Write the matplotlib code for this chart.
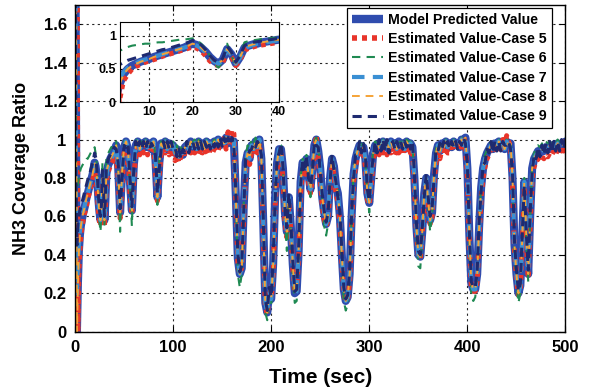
import numpy as np
import matplotlib
matplotlib.use('Agg')
import matplotlib.pyplot as plt

plt.rcParams['font.family'] = ['Liberation Sans', 'DejaVu Sans']
plt.rcParams['font.weight'] = 'bold'

# ---------------- data ----------------
time_start = list(range(0, 41))          # 1 s samples, 0..40 s
time_rest = list(range(42, 501, 2))      # 2 s samples, 42..500 s

model_start = [3.0, 1.2, 0.0, 0.25, 0.42, 0.5, 0.55, 0.58, 0.61, 0.63,
               0.65, 0.68, 0.7, 0.72, 0.74, 0.76, 0.78, 0.8, 0.82, 0.85,
               0.88, 0.86, 0.82, 0.76, 0.68, 0.62, 0.58, 0.64, 0.8, 0.72,
               0.58, 0.68, 0.82, 0.85, 0.87, 0.88, 0.9, 0.91, 0.92, 0.93, 0.94]
model_rest = [0.97, 0.86, 0.62, 0.83, 0.96, 0.99, 0.95, 0.78, 0.63, 0.87,
              0.97, 0.99, 0.95, 0.98, 0.96, 0.99, 0.96, 0.98, 0.95, 0.99,
              0.9, 0.70, 0.88, 0.98, 0.96, 0.99, 0.95, 0.98, 0.96, 0.97,
              0.93, 0.95, 0.91, 0.94, 0.92, 0.96, 0.97, 0.95, 0.99, 0.96,
              0.98, 0.95, 0.99, 0.96, 0.98, 0.95, 0.99, 0.97, 0.98, 0.96,
              0.99, 0.97, 1.0, 0.97, 0.99, 0.98, 1.01, 0.98, 1.0, 0.99,
              0.99, 0.7, 0.38, 0.3, 0.33, 0.65, 0.88, 0.93, 0.9, 0.97,
              0.95, 0.99, 0.96, 1.0, 0.9, 0.55, 0.15, 0.1, 0.22, 0.17,
              0.35, 0.7, 0.88, 0.95, 0.95, 0.85, 0.62, 0.52, 0.7, 0.55,
              0.35, 0.2, 0.21, 0.42, 0.78, 0.88, 0.85, 0.9, 0.82, 0.74,
              0.85, 0.97, 1.0, 0.94, 0.85, 0.7, 0.62, 0.56, 0.6, 0.8,
              0.9, 0.86, 0.76, 0.72, 0.6, 0.4, 0.22, 0.16, 0.18, 0.3,
              0.6, 0.82, 0.9, 0.94, 0.97, 0.95, 0.96, 0.9, 0.72, 0.67,
              0.8, 0.93, 0.97, 0.95, 0.98, 0.96, 0.99, 0.96, 0.98, 0.95,
              0.99, 0.96, 0.98, 0.95, 0.99, 0.97, 0.98, 0.95, 0.99, 0.97,
              0.98, 0.96, 0.8, 0.55, 0.4, 0.39, 0.52, 0.72, 0.8, 0.68,
              0.58, 0.62, 0.82, 0.93, 0.97, 0.94, 0.98, 0.96, 0.99, 0.96,
              0.98, 0.96, 0.99, 0.97, 0.98, 0.96, 1.0, 0.97, 1.01, 0.85,
              0.5, 0.25, 0.22, 0.22, 0.3, 0.55, 0.75, 0.85, 0.9, 0.93,
              0.95, 0.97, 0.95, 0.98, 0.96, 0.99, 0.96, 0.98, 0.95, 0.99,
              0.97, 0.98, 0.8, 0.45, 0.3, 0.2, 0.24, 0.5, 0.78, 0.5,
              0.3, 0.6, 0.85, 0.9, 0.92, 0.94, 0.93, 0.95, 0.94, 0.96,
              0.95, 0.97, 0.95, 0.97, 0.96, 0.98, 0.96, 0.98, 0.97, 0.99]

case5_start = [3.0, 3.0, 3.0, 0.0, 0.32, 0.42, 0.5, 0.54, 0.57, 0.6,
               0.62, 0.64, 0.66, 0.69, 0.71, 0.73, 0.75, 0.77, 0.79, 0.81,
               0.83, 0.81, 0.77, 0.7, 0.62, 0.57, 0.55, 0.6, 0.76, 0.68,
               0.55, 0.64, 0.78, 0.81, 0.83, 0.85, 0.86, 0.87, 0.88, 0.89, 0.9]
case5_rest = [0.92, 0.80, 0.59, 0.76, 0.93, 0.94, 0.93, 0.72, 0.61, 0.8,
              0.93, 0.96, 0.92, 0.95, 0.93, 0.97, 0.92, 0.96, 0.93, 0.95,
              0.84, 0.68, 0.82, 0.93, 0.95, 0.93, 0.96, 0.92, 0.95, 0.93,
              0.89, 0.92, 0.88, 0.91, 0.9, 0.93, 0.92, 0.94, 0.93, 0.95,
              0.93, 0.96, 0.92, 0.95, 0.93, 0.96, 0.94, 0.92, 0.95, 0.93,
              0.95, 0.98, 0.94, 0.99, 0.96, 1.02, 0.95, 1.04, 0.97, 1.05,
              1.03, 0.68, 0.36, 0.3, 0.34, 0.6, 0.84, 0.9, 0.87, 0.93,
              0.92, 0.96, 0.93, 0.98, 0.86, 0.5, 0.13, 0.09, 0.2, 0.17,
              0.3, 0.65, 0.84, 0.92, 0.93, 0.8, 0.58, 0.49, 0.66, 0.53,
              0.33, 0.2, 0.22, 0.38, 0.72, 0.84, 0.82, 0.87, 0.78, 0.72,
              0.8, 0.95, 1.02, 0.9, 0.8, 0.66, 0.58, 0.55, 0.58, 0.75,
              0.86, 0.82, 0.72, 0.68, 0.56, 0.36, 0.2, 0.16, 0.17, 0.26,
              0.55, 0.78, 0.86, 0.91, 0.93, 0.92, 0.93, 0.86, 0.69, 0.66,
              0.76, 0.9, 0.93, 0.96, 0.92, 0.95, 0.93, 0.97, 0.92, 0.95,
              0.93, 0.96, 0.92, 0.95, 0.93, 0.96, 0.92, 0.95, 0.93, 0.96,
              0.93, 0.95, 0.76, 0.52, 0.4, 0.38, 0.5, 0.68, 0.76, 0.64,
              0.56, 0.6, 0.78, 0.88, 0.93, 0.9, 0.95, 0.92, 0.96, 0.93,
              0.93, 0.96, 0.94, 0.97, 0.95, 0.99, 0.96, 1.02, 0.98, 0.8,
              0.45, 0.23, 0.21, 0.21, 0.26, 0.5, 0.7, 0.8, 0.86, 0.9,
              0.92, 0.95, 0.93, 0.96, 0.94, 0.97, 0.95, 1.0, 0.96, 1.02,
              0.99, 0.96, 0.76, 0.42, 0.28, 0.19, 0.22, 0.46, 0.74, 0.46,
              0.28, 0.55, 0.8, 0.86, 0.88, 0.9, 0.89, 0.91, 0.9, 0.92,
              0.91, 0.93, 0.92, 0.94, 0.92, 0.95, 0.93, 0.96, 0.94, 1.0]

case6_start = [3.0, 0.6, 0.72, 0.77, 0.8, 0.83, 0.85, 0.86, 0.87, 0.88,
               0.88, 0.89, 0.9, 0.9, 0.91, 0.92, 0.93, 0.94, 0.94, 0.95,
               0.96, 0.93, 0.88, 0.8, 0.7, 0.57, 0.52, 0.62, 0.88, 0.7,
               0.55, 0.72, 0.9, 0.92, 0.93, 0.94, 0.95, 0.96, 0.96, 0.97, 0.97]
case6_rest = [0.99, 0.85, 0.52, 0.85, 0.99, 1.0, 0.97, 0.76, 0.55, 0.89,
              0.99, 1.01, 0.97, 1.0, 0.98, 1.0, 0.98, 1.0, 0.97, 1.0,
              0.91, 0.66, 0.9, 1.0, 0.98, 1.0, 0.97, 0.99, 0.98, 0.99,
              0.95, 0.97, 0.93, 0.96, 0.94, 0.98, 0.99, 0.97, 1.0, 0.98,
              1.0, 0.97, 1.0, 0.98, 0.99, 0.97, 1.0, 0.99, 0.99, 0.98,
              1.0, 0.99, 1.01, 0.99, 1.0, 0.99, 1.01, 0.99, 1.0, 1.0,
              1.0, 0.68, 0.3, 0.23, 0.3, 0.66, 0.92, 0.97, 0.94, 1.0,
              0.98, 1.01, 0.99, 1.01, 0.9, 0.5, 0.1, 0.06, 0.18, 0.13,
              0.33, 0.72, 0.9, 0.97, 0.97, 0.85, 0.58, 0.42, 0.7, 0.5,
              0.3, 0.15, 0.16, 0.4, 0.8, 0.9, 0.87, 0.92, 0.82, 0.7,
              0.86, 0.99, 1.01, 0.96, 0.86, 0.68, 0.55, 0.5, 0.56, 0.82,
              0.92, 0.88, 0.78, 0.74, 0.58, 0.35, 0.16, 0.11, 0.14, 0.28,
              0.6, 0.84, 0.92, 0.96, 0.99, 0.97, 0.98, 0.9, 0.7, 0.62,
              0.82, 0.95, 0.99, 0.97, 1.0, 0.98, 1.0, 0.98, 0.99, 0.97,
              1.0, 0.98, 0.99, 0.97, 1.0, 0.98, 0.99, 0.97, 1.0, 0.99,
              0.99, 0.98, 0.78, 0.5, 0.34, 0.33, 0.5, 0.74, 0.82, 0.66,
              0.52, 0.6, 0.84, 0.95, 0.99, 0.96, 0.99, 0.98, 1.0, 0.98,
              0.99, 0.98, 1.0, 0.98, 0.99, 0.98, 1.01, 0.99, 1.01, 0.84,
              0.46, 0.19, 0.16, 0.18, 0.28, 0.55, 0.77, 0.87, 0.92, 0.95,
              0.97, 0.99, 0.97, 0.99, 0.98, 1.0, 0.98, 0.99, 0.97, 1.0,
              0.99, 0.99, 0.78, 0.4, 0.25, 0.15, 0.2, 0.48, 0.8, 0.48,
              0.26, 0.6, 0.87, 0.93, 0.95, 0.97, 0.96, 0.98, 0.97, 0.99,
              0.98, 0.99, 0.98, 0.99, 0.98, 1.0, 0.98, 1.0, 0.99, 1.0]

case7_start = [3.0, 0.5, 0.2, 0.35, 0.45, 0.52, 0.56, 0.59, 0.62, 0.64,
               0.66, 0.68, 0.7, 0.72, 0.74, 0.76, 0.78, 0.8, 0.82, 0.84,
               0.87, 0.85, 0.81, 0.75, 0.67, 0.61, 0.58, 0.63, 0.79, 0.71,
               0.58, 0.67, 0.81, 0.84, 0.86, 0.88, 0.89, 0.9, 0.91, 0.92, 0.93]
case7_rest = model_rest      # coincides with the model curve after 40 s
case8_start = model_start    # hidden under the model curve
case8_rest = model_rest

case9_start = [3.0, 0.8, 0.45, 0.56, 0.6, 0.63, 0.65, 0.67, 0.69, 0.71,
               0.73, 0.75, 0.77, 0.79, 0.8, 0.82, 0.84, 0.86, 0.88, 0.9,
               0.93, 0.91, 0.86, 0.79, 0.7, 0.63, 0.6, 0.66, 0.84, 0.75,
               0.6, 0.7, 0.85, 0.88, 0.9, 0.91, 0.92, 0.93, 0.94, 0.95, 0.96]
case9_rest = [0.95, 0.88, 0.64, 0.8, 0.97, 0.96, 0.98, 0.8, 0.65, 0.85,
              0.99, 0.95, 0.99, 0.95, 0.99, 0.95, 0.99, 0.95, 0.98, 0.96,
              0.92, 0.72, 0.85, 0.96, 0.99, 0.95, 0.99, 0.95, 0.99, 0.95,
              0.96, 0.91, 0.95, 0.9, 0.95, 0.93, 0.99, 0.93, 0.97, 0.99,
              0.95, 0.99, 0.95, 0.99, 0.95, 0.99, 0.96, 0.99, 0.95, 0.99,
              0.96, 1.0, 0.96, 1.01, 0.96, 1.01, 0.97, 1.01, 0.97, 1.01,
              0.96, 0.72, 0.4, 0.31, 0.35, 0.63, 0.9, 0.91, 0.94, 0.95,
              0.98, 0.96, 0.99, 0.97, 0.92, 0.58, 0.17, 0.11, 0.23, 0.18,
              0.38, 0.68, 0.9, 0.93, 0.98, 0.86, 0.64, 0.54, 0.72, 0.57,
              0.37, 0.21, 0.22, 0.44, 0.76, 0.9, 0.83, 0.92, 0.8, 0.76,
              0.83, 0.99, 0.97, 0.96, 0.83, 0.72, 0.63, 0.57, 0.62, 0.78,
              0.92, 0.84, 0.78, 0.7, 0.62, 0.42, 0.23, 0.17, 0.19, 0.32,
              0.62, 0.8, 0.92, 0.92, 0.99, 0.93, 0.98, 0.92, 0.74, 0.68,
              0.82, 0.91, 0.99, 0.93, 1.0, 0.94, 1.0, 0.94, 1.0, 0.93,
              0.97, 0.99, 0.95, 0.99, 0.96, 0.99, 0.95, 0.99, 0.96, 0.99,
              0.95, 0.99, 0.82, 0.57, 0.42, 0.4, 0.54, 0.7, 0.82, 0.7,
              0.6, 0.64, 0.8, 0.95, 0.94, 0.98, 0.95, 0.99, 0.96, 0.99,
              0.95, 0.99, 0.96, 0.99, 0.95, 0.99, 0.97, 1.01, 0.98, 0.87,
              0.52, 0.26, 0.23, 0.23, 0.32, 0.57, 0.73, 0.87, 0.88, 0.95,
              0.93, 0.99, 0.93, 0.99, 0.94, 0.99, 0.94, 0.99, 0.97, 0.97,
              0.99, 0.95, 0.82, 0.47, 0.32, 0.21, 0.25, 0.52, 0.76, 0.52,
              0.32, 0.62, 0.83, 0.92, 0.9, 0.96, 0.91, 0.97, 0.92, 0.98,
              0.93, 0.99, 0.93, 0.99, 0.94, 0.99, 0.94, 1.0, 0.95, 1.01]

labels = ['Model Predicted Value', 'Estimated Value-Case 5',
          'Estimated Value-Case 6', 'Estimated Value-Case 7',
          'Estimated Value-Case 8', 'Estimated Value-Case 9']
x_ticks = [0, 100, 200, 300, 400, 500]
y_ticks = [0, 0.2, 0.4, 0.6, 0.8, 1, 1.2, 1.4, 1.6]
y_ticklabels = ['0', '0.2', '0.4', '0.6', '0.8', '1', '1.2', '1.4', '1.6']
inset_x_ticks = [10, 20, 30, 40]
inset_y_ticks = [0, 0.5, 1]
inset_y_ticklabels = ['0', '0.5', '1']

# ---------------- assemble ----------------
time = np.array(time_start + time_rest, dtype=float)
series = [model_start + model_rest,
          case5_start + case5_rest,
          case6_start + case6_rest,
          case7_start + case7_rest,
          case8_start + case8_rest,
          case9_start + case9_rest]
series = [np.array(s, dtype=float) for s in series]

styles = [
    dict(color='#2F4CAE', lw=5.8, ls='-', solid_capstyle='round', solid_joinstyle='round'),
    dict(color='#E8352A', lw=3.6, ls=(0, (0.9, 0.9))),
    dict(color='#1F8A52', lw=1.5, ls=(0, (4, 3))),
    dict(color='#3A8FD3', lw=3.0, ls=(0, (3, 2))),
    dict(color='#F5A337', lw=1.4, ls=(0, (4, 3))),
    dict(color='#1E2A70', lw=2.2, ls=(0, (3, 2))),
]

fig = plt.figure(figsize=(5.89, 3.92), dpi=100)
ax = fig.add_axes([0.1273, 0.1538, 0.8328, 0.8335])

handles = []
for s, st, lab in zip(series, styles, labels):
    h, = ax.plot(time, s, label=lab, **st)
    handles.append(h)

grid_kw = dict(color='0.15', linestyle=(0, (2, 3)), linewidth=0.8)
ax.set_xlim(0, 500)
ax.set_ylim(0, 1.7)
ax.set_xticks(x_ticks)
ax.set_yticks(y_ticks)
ax.set_yticklabels(y_ticklabels)
ax.grid(True, **grid_kw)
ax.set_axisbelow(True)
ax.tick_params(direction='in', length=4, width=0.8, labelsize=12, pad=6,
               top=True, right=True)
for lab in ax.get_xticklabels() + ax.get_yticklabels():
    lab.set_fontweight('bold')
for sp in ax.spines.values():
    sp.set_linewidth(1.0)
ax.set_xlabel('Time (sec)', fontsize=15, fontweight='bold', labelpad=9)
ax.set_ylabel('NH3 Coverage Ratio', fontsize=13, fontweight='bold', labelpad=10)

leg = ax.legend(handles=handles, loc='upper right', fontsize=10.2,
                bbox_to_anchor=(0.9725, 0.992),
                frameon=True, fancybox=False, framealpha=1, edgecolor='black',
                handlelength=2.2, handletextpad=0.4, labelspacing=0.38,
                borderpad=0.35, borderaxespad=0.0)
leg.get_frame().set_linewidth(0.9)
for t in leg.get_texts():
    t.set_fontweight('bold')
leg.legend_handles[0].set_linewidth(6)
leg.legend_handles[0].set_solid_capstyle('butt')
leg.legend_handles[1].set_linewidth(4)

# ---------------- inset ----------------
axi = fig.add_axes([0.2037, 0.739, 0.27, 0.204])
for s, st in zip(series, styles):
    axi.plot(time, s, **st)
axi.set_xlim(3.2, 40)
axi.set_ylim(0, 1.2)
axi.set_xticks(inset_x_ticks)
axi.set_yticks(inset_y_ticks)
axi.set_yticklabels(inset_y_ticklabels)
axi.grid(True, **grid_kw)
axi.tick_params(direction='in', length=3, width=0.8, labelsize=9, pad=3,
                top=True, right=True)
for lab in axi.get_xticklabels() + axi.get_yticklabels():
    lab.set_fontweight('bold')
axi.set_facecolor('white')

fig.savefig('out.png', dpi=100)
